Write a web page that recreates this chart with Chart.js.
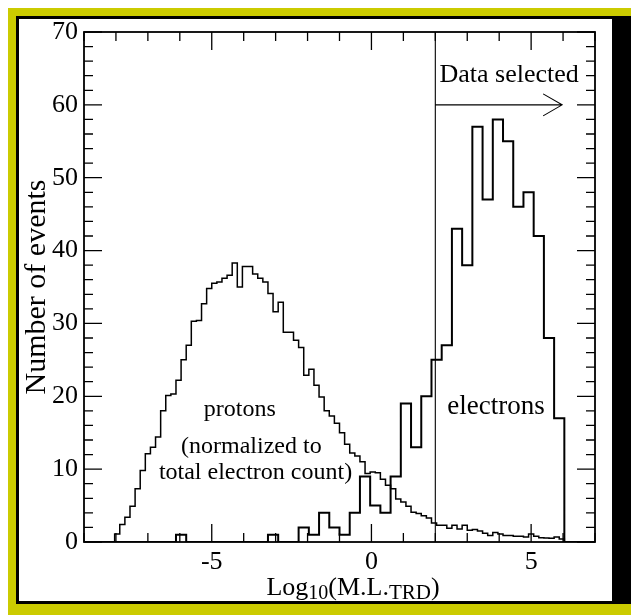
<!DOCTYPE html>
<html>
<head>
<meta charset="utf-8">
<script src="https://cdn.jsdelivr.net/npm/chart.js@4.4.1/dist/chart.umd.min.js"></script>
<style>
  body { margin: 0; background: #fff; }
  .box { position: absolute; }
  #yellow { left: 8px; top: 8px; width: 623px; height: 607px; background: #cbcb00; }
  #black { left: 16px; top: 16px; width: 615px; height: 588px; background: #000; }
  #white { left: 19px; top: 19px; width: 593px; height: 582px; background: #fff; }
  #wrap { left: 0; top: 0; width: 631px; height: 616px; }
</style>
</head>
<body>
<div class="box" id="yellow"></div>
<div class="box" id="black"></div>
<div class="box" id="white"></div>
<div class="box" id="wrap"><canvas id="trdChart"></canvas></div>
<script>
// histogram range and binning
const xMin = -9, xMax = 7;
const protonBinWidth = 0.16;   // 100 bins
const electronBinWidth = 0.32; // 50 bins
const cutValue = 2;            // data selected to the right of this

// proton counts (normalized), bins starting at -9
const protonCounts = [
  0, 0, 0, 0, 0, 0, 1.1, 2.4, 3.4, 4.9,
  7.3, 9.8, 12.1, 13.0, 14.4, 18.0, 20.1, 20.3, 22.2, 25.0,
  27.0, 30.3, 30.4, 32.7, 34.8, 35.5, 35.7, 36.2, 36.6, 38.3,
  35.0, 37.8, 37.8, 36.8, 36.2, 35.7, 34.1, 31.6, 32.9, 28.8,
  28.8, 27.7, 26.7, 22.9, 23.7, 21.5, 19.9, 18.0, 17.3, 16.3,
  15.0, 13.4, 12.2, 11.8, 11.0, 9.4, 9.6, 9.5, 8.6, 7.8,
  7.3, 5.9, 5.5, 4.9, 4.1, 3.9, 3.6, 3.3, 2.6, 2.3,
  2.3, 1.9, 2.3, 1.8, 2.3, 1.6, 1.7, 1.5, 1.2, 0.9,
  1.3, 1.1, 0.9, 0.9, 0.8, 0.8, 0.7, 1.1, 0.8, 0.6,
  0.55, 0.5, 0.7, 0.4, 0, 0, 0, 0, 0, 0
];

// electron counts, bins starting at -9
const electronCounts = [
  0, 0, 0, 0, 0, 0, 0, 0, 0, 1,
  0, 0, 0, 0, 0, 0, 0, 0, 1, 0,
  0, 2, 1, 4, 2, 1, 4, 9, 5, 4,
  9, 19, 13, 20, 25, 27, 43, 38, 57, 47,
  58, 55, 46, 48, 42, 28, 17, 0, 0, 0
];

const xTickLabels = [-5, 0, 5];

function histPoints(counts, width) {
  const pts = counts.map((c, i) => ({ x: xMin + i * width, y: c }));
  pts.push({ x: xMin + counts.length * width, y: 0 });
  return pts;
}

const serif = '"Liberation Serif", "DejaVu Serif", serif';

const decorations = {
  id: 'decorations',
  afterDatasetsDraw(chart) {
    const { ctx, chartArea: a, scales: { x, y } } = chart;
    ctx.save();
    ctx.strokeStyle = '#000';
    ctx.fillStyle = '#000';

    // frame
    ctx.lineWidth = 1.8;
    ctx.strokeRect(a.left, a.top, a.right - a.left, a.bottom - a.top);

    // inward ticks
    ctx.lineWidth = 1.3;
    ctx.beginPath();
    for (let v = xMin; v <= xMax; v++) {
      const px = x.getPixelForValue(v);
      const len = v % 5 === 0 ? 18 : 9;
      ctx.moveTo(px, a.bottom); ctx.lineTo(px, a.bottom - len);
      ctx.moveTo(px, a.top); ctx.lineTo(px, a.top + len);
    }
    for (let v = 0; v <= 70; v += 2) {
      const py = y.getPixelForValue(v);
      const len = v % 10 === 0 ? 18 : 9;
      ctx.moveTo(a.left, py); ctx.lineTo(a.left + len, py);
      ctx.moveTo(a.right, py); ctx.lineTo(a.right - len, py);
    }
    ctx.stroke();

    // selection cut and arrow
    ctx.lineWidth = 1.1;
    const cx = x.getPixelForValue(cutValue);
    ctx.beginPath();
    ctx.moveTo(cx, a.bottom); ctx.lineTo(cx, a.top);
    const ay = y.getPixelForValue(60);
    const ax = x.getPixelForValue(5.97);
    ctx.moveTo(cx, ay); ctx.lineTo(ax, ay);
    ctx.moveTo(ax - 19, ay - 11); ctx.lineTo(ax, ay); ctx.lineTo(ax - 19, ay + 11);
    ctx.stroke();

    // annotations
    ctx.textAlign = 'center';
    ctx.textBaseline = 'alphabetic';
    const put = (t, size, vx, vy) => {
      ctx.font = size + 'px ' + serif;
      ctx.fillText(t, x.getPixelForValue(vx), y.getPixelForValue(vy));
    };
    put('Data selected', 26, 4.31, 63.1);
    put('protons', 24, -4.12, 17.3);
    put('(normalized to', 24, -3.76, 12.2);
    put('total electron count)', 24, -3.63, 8.6);
    put('electrons', 27, 3.9, 17.6);

    // x axis title with subscripts
    const parts = [
      ['Log', 26, 0], ['10', 20, 4], ['(M.L.', 26, 0], ['TRD', 21, 4], [')', 26, 0]
    ];
    let total = 0;
    parts.forEach(p => { ctx.font = p[1] + 'px ' + serif; total += ctx.measureText(p[0]).width; });
    let tx = 353 - total / 2;
    const base = 595;
    ctx.textAlign = 'left';
    parts.forEach(p => {
      ctx.font = p[1] + 'px ' + serif;
      ctx.fillText(p[0], tx, base + p[2]);
      tx += ctx.measureText(p[0]).width;
    });
    ctx.restore();
  }
};

new Chart(document.getElementById('trdChart'), {
  type: 'line',
  data: {
    datasets: [
      {
        label: 'protons',
        data: histPoints(protonCounts, protonBinWidth),
        stepped: true,
        borderColor: '#000',
        borderWidth: 1.5,
        pointRadius: 0,
        fill: false
      },
      {
        label: 'electrons',
        data: histPoints(electronCounts, electronBinWidth),
        stepped: true,
        borderColor: '#000',
        borderWidth: 2,
        pointRadius: 0,
        fill: false
      }
    ]
  },
  options: {
    responsive: true,
    maintainAspectRatio: false,
    animation: false,
    layout: { padding: { left: 0, top: 32, right: 36, bottom: 0 } },
    plugins: { legend: { display: false }, tooltip: { enabled: false } },
    scales: {
      x: {
        type: 'linear',
        min: xMin,
        max: xMax,
        afterFit: s => { s.height = 74; },
        afterBuildTicks: s => { s.ticks = xTickLabels.map(v => ({ value: v })); },
        grid: { display: false, drawTicks: false },
        border: { display: false },
        ticks: {
          padding: 5,
          color: '#000',
          font: { family: serif, size: 26 },
          autoSkip: false,
          maxRotation: 0
        }
      },
      y: {
        min: 0,
        max: 70,
        afterFit: s => { s.width = 84; },
        grid: { display: false, drawTicks: false },
        border: { display: false },
        ticks: {
          stepSize: 10,
          padding: 6,
          color: '#000',
          font: { family: serif, size: 26 }
        },
        title: {
          display: true,
          text: 'Number of events',
          color: '#000',
          font: { family: serif, size: 30 },
          padding: { top: 19, bottom: 0 }
        }
      }
    }
  },
  plugins: [decorations]
});
</script>
</body>
</html>
